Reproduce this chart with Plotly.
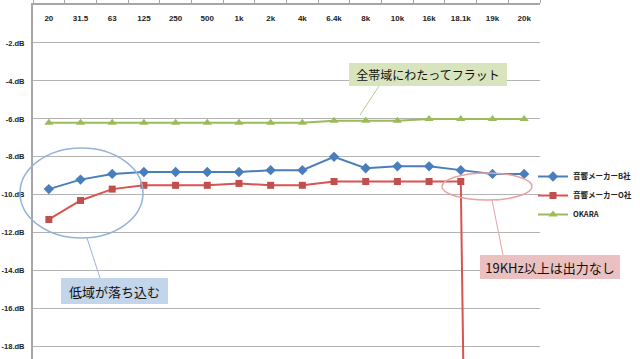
import plotly.graph_objects as go

categories = ["20", "31.5", "63", "125", "250", "500", "1k", "2k", "4k",
              "6.4k", "8k", "10k", "16k", "18.1k", "19k", "20k"]
maker_b = [-9.7, -9.2, -8.9, -8.8, -8.8, -8.8, -8.8, -8.7, -8.7,
           -8.0, -8.6, -8.5, -8.5, -8.7, -8.9, -8.9]
maker_o = [-11.3, -10.3, -9.7, -9.5, -9.5, -9.5, -9.4, -9.5, -9.5,
           -9.3, -9.3, -9.3, -9.3, -9.3, -130, -130]
okara = [-6.2, -6.2, -6.2, -6.2, -6.2, -6.2, -6.2, -6.2, -6.2,
         -6.1, -6.1, -6.1, -6.0, -6.0, -6.0, -6.0]
y_ticks = [0, -2, -4, -6, -8, -10, -12, -14, -16, -18]
y_tick_labels = [".dB", "-2.dB", "-4.dB", "-6.dB", "-8.dB", "-10.dB",
                 "-12.dB", "-14.dB", "-16.dB", "-18.dB"]

W, H = 640, 359
L, R, T, B = 33, 100, 5, 0
PW, PH = W - L - R, H - T - B


def px(x):
    return (x - L) / PW


def py(y):
    return (H - B - y) / PH


JP = "Noto Sans CJK JP"
TXT = "Liberation Sans"

fig = go.Figure()
fig.add_trace(go.Scatter(x=categories, y=maker_b, name="音響メーカーB社",
                         mode="lines+markers",
                         line=dict(color="#4a7ebb", width=2),
                         marker=dict(symbol="diamond", size=8, color="#4a7ebb")))
fig.add_trace(go.Scatter(x=categories, y=maker_o, name="音響メーカーO社",
                         mode="lines+markers",
                         line=dict(color="#d9534f", width=2),
                         marker=dict(symbol="square", size=7, color="#c0504d")))
fig.add_trace(go.Scatter(x=categories, y=okara, name="OKARA",
                         mode="lines+markers",
                         line=dict(color="#9bbb59", width=2),
                         marker=dict(symbol="triangle-up", size=8, color="#9bbb59")))
# carrier for the category labels drawn inside the plot below the top axis
fig.add_trace(go.Scatter(x=list(range(len(categories))), y=okara, xaxis="x2",
                         mode="none", showlegend=False, hoverinfo="skip"))

shapes = [
    dict(type="circle", xref="paper", yref="paper",
         x0=px(20), x1=px(143), y0=py(238), y1=py(148),
         line=dict(color="#95b3d7", width=1.5)),
    dict(type="line", xref="paper", yref="paper",
         x0=px(87), y0=py(238), x1=px(100), y1=py(278),
         line=dict(color="#95b3d7", width=1)),
    dict(type="circle", xref="paper", yref="paper",
         x0=px(442), x1=px(532), y0=py(200), y1=py(173),
         line=dict(color="#e6a3a2", width=1.5)),
    dict(type="line", xref="paper", yref="paper",
         x0=px(492), y0=py(200), x1=px(503), y1=py(255),
         line=dict(color="#e6a3a2", width=1)),
    dict(type="line", xref="paper", yref="paper",
         x0=px(379), y0=py(86), x1=px(360), y1=py(115),
         line=dict(color="#b5cc8a", width=1)),
]


def box(text, x0, y0, x1, y1, color, size):
    return dict(text=text, xref="paper", yref="paper",
                x=px(x0), y=py(y0), xanchor="left", yanchor="top",
                width=x1 - x0, height=y1 - y0, bgcolor=color,
                borderpad=0, borderwidth=0, showarrow=False,
                align="center", valign="middle",
                font=dict(family=JP, size=size, color="#111111"))


annotations = [
    box("全帯域にわたってフラット", 349, 63, 507, 86, "#d7e4bd", 12),
    box("低域が落ち込む", 61, 278, 168, 304, "#c3d5ea", 13),
    box("19KHz以上は出力なし", 480, 255, 620, 279, "#eac1c0", 13),
]

tick_font = dict(family=TXT, size=8, color="#222222", weight="bold")

fig.update_layout(
    width=W, height=H,
    margin=dict(l=L, r=R, t=T, b=B, autoexpand=False),
    paper_bgcolor="white", plot_bgcolor="white",
    showlegend=True,
    legend=dict(x=px(533), y=py(162), xanchor="left", yanchor="top",
                font=dict(family=JP, size=7.5, color="#222222", weight="bold"),
                bgcolor="rgba(0,0,0,0)", borderwidth=0,
                tracegroupgap=0, itemwidth=30),
    shapes=shapes,
    annotations=annotations,
    xaxis=dict(type="category", side="top", range=[-0.5, 15.5],
               automargin=False,
               showline=True, linecolor="#a6a6a6", linewidth=1.5,
               ticks="outside", ticklen=5, tickcolor="#a6a6a6",
               tickson="boundaries", showticklabels=False,
               showgrid=False, zeroline=False),
    xaxis2=dict(overlaying="x", side="top", anchor="y", range=[-0.5, 15.5],
                automargin=False, showline=False, showgrid=False,
                zeroline=False, ticks="",
                tickvals=list(range(len(categories))), ticktext=categories,
                ticklabelposition="inside", ticklabelstandoff=7,
                tickfont=tick_font),
    yaxis=dict(range=[-(H - B - T) / 18.98, 0.0001], tickvals=y_ticks,
               automargin=False, ticklabeloverflow="allow",
               ticktext=y_tick_labels, showline=True, linecolor="#a6a6a6",
               linewidth=2, showgrid=True, gridcolor="#b3b3b3", gridwidth=1,
               zeroline=False, ticks="", ticklabelstandoff=5,
               tickfont=dict(family=TXT, size=7.5, color="#222222", weight="bold")),
)

fig.write_html("out.html", config={"displayModeBar": False},
               post_script="document.body.style.margin='0';document.body.style.overflow='hidden';")
